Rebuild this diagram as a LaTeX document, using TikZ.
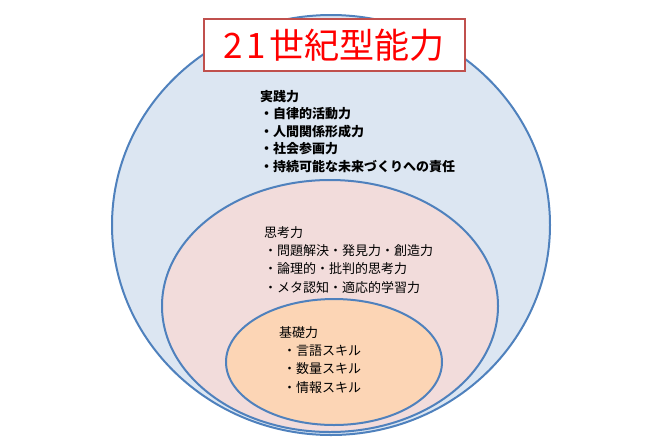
\documentclass[tikz,border=0pt]{standalone}
\usepackage{fontspec}
\newfontfamily\jpfont{Noto Sans CJK JP}

\begin{document}
\begin{tikzpicture}[x=1pt, y=-1pt, font=\jpfont]
    % Define colours
    \definecolor{borderColour}{HTML}{4F81BD}
    \definecolor{outerColour}{HTML}{DCE6F2}
    \definecolor{middleColour}{HTML}{F2DCDB}
    \definecolor{innerColour}{HTML}{FCD5B5}
    \definecolor{titleBorder}{HTML}{C0504D}
    \definecolor{titleText}{HTML}{FF0000}

    % Fix the page size
    \useasboundingbox (0,0) rectangle (663,437);

    % Define the centres of the ellipses
    \coordinate (outer) at (331,225);
    \coordinate (middle) at (330,306);
    \coordinate (inner) at (334,362);

    % Draw the ellipses
    \draw[fill=outerColour, draw=borderColour, line width=2pt] (outer) ellipse [x radius=219pt, y radius=210pt];
    \draw[fill=middleColour, draw=borderColour, line width=2pt] (middle) ellipse [x radius=168pt, y radius=126pt];
    \draw[fill=innerColour, draw=borderColour, line width=2pt] (inner) ellipse [x radius=108pt, y radius=63pt];

    % Draw the title box
    \node[draw=titleBorder, fill=white, line width=2pt, minimum width=261pt, minimum height=52pt,
          text=titleText, font=\jpfont\fontsize{35}{35}\selectfont] (title) at (334,45) {2\hspace{4pt}1\hspace{3pt}世紀型能力};

    % Label the three levels
    \node[anchor=north west, align=left, inner sep=0pt, font=\jpfont\bfseries\fontsize{13}{17.5}\selectfont]
        (practice) at (260,90) {実践力\\・自律的活動力\\・人間関係形成力\\・社会参画力\\・持続可能な未来づくりへの責任};
    \node[anchor=north west, align=left, inner sep=0pt, font=\jpfont\fontsize{13}{18.3}\selectfont]
        (thinking) at (264,226) {思考力\\・問題解決・発見力・創造力\\・論理的・批判的思考力\\・メタ認知・適応的学習力};
    \node[anchor=north west, align=left, inner sep=0pt, font=\jpfont\fontsize{13}{18.3}\selectfont]
        (basic) at (279,326) {基礎力\\\hspace{4pt}・言語スキル\\\hspace{4pt}・数量スキル\\\hspace{4pt}・情報スキル};

\end{tikzpicture}
\end{document}
